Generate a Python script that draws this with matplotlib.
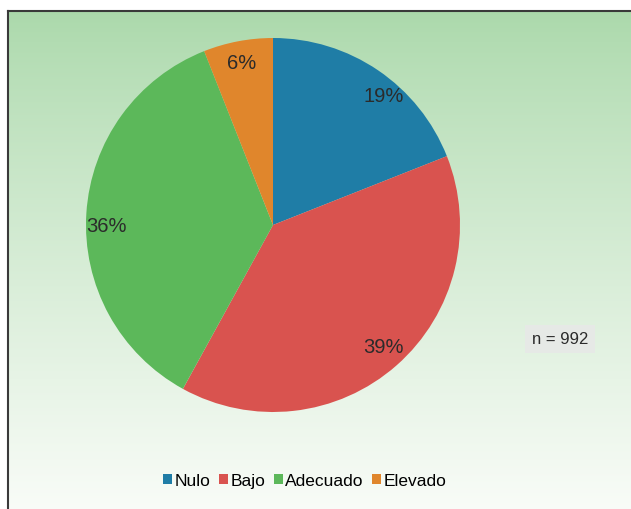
import numpy as np
import matplotlib.pyplot as plt
from matplotlib.patches import Patch

plt.rcParams['font.family'] = ['Liberation Sans', 'DejaVu Sans']

categories = ['Nulo', 'Bajo', 'Adecuado', 'Elevado']
percentages = [19, 39, 36, 6]
colors = ['#1f7da6', '#d9534f', '#5cb85a', '#e0862c']
n_total = 992

W, H = 631, 510
fig = plt.figure(figsize=(W / 100, H / 100), dpi=100)
fig.patch.set_facecolor('white')

# framed background with a vertical green-to-white gradient
bg = fig.add_axes([8 / W, 0, 1 - 8 / W, (H - 12) / H])
top = np.array([0.67, 0.85, 0.67])
bottom = np.array([0.975, 0.988, 0.97])
t = np.linspace(0, 1, 256)[:, None] ** 0.85
grad = top * (1 - t) + bottom * t
bg.imshow(grad[:, None, :], aspect='auto', extent=[0, 1, 0, 1])
bg.set_xlim(0, 1)
bg.set_ylim(0, 1)
bg.set_xticks([])
bg.set_yticks([])
for side in ['right', 'bottom']:
    bg.spines[side].set_visible(False)
for side in ['left', 'top']:
    bg.spines[side].set_color('#3a3a3a')
    bg.spines[side].set_linewidth(1.5)

# pie
cx, cy, r = 273, 226, 187
ax = fig.add_axes([(cx - r) / W, (H - cy - r) / H, 2 * r / W, 2 * r / H])
ax.set_facecolor('none')
wedges, texts, autotexts = ax.pie(
    percentages, colors=colors, startangle=90, counterclock=False,
    radius=1, autopct='%.0f%%', pctdistance=0.87,
    wedgeprops=dict(linewidth=0))

# best-fit style placement of the percentage labels
label_pos = [(0.59, 0.69), (0.59, -0.65), (-0.89, 0.0), (-0.17, 0.87)]
for at, pos in zip(autotexts, label_pos):
    at.set_position(pos)
    at.set_fontsize(14.5)
    at.set_color('#2b2b2b')
ax.set_xlim(-1, 1)
ax.set_ylim(-1, 1)
ax.set_aspect('auto')
ax.axis('off')

# sample size note
fig.text(560 / W, 1 - 340 / H, f'n = {n_total}', fontsize=12, color='#2b2b2b',
         ha='center', va='center',
         bbox=dict(boxstyle='square,pad=0.4', facecolor='#e6e9e6',
                   edgecolor='none'))

handles = [Patch(facecolor=c, edgecolor='none') for c in colors]
fig.legend(handles, categories, loc='center',
           bbox_to_anchor=(305 / W, 1 - 482 / H), ncol=4, frameon=False,
           fontsize=12.5, handlelength=0.5, handleheight=0.5,
           handletextpad=0.15, columnspacing=0.5)

fig.savefig('out.png', dpi=100)
